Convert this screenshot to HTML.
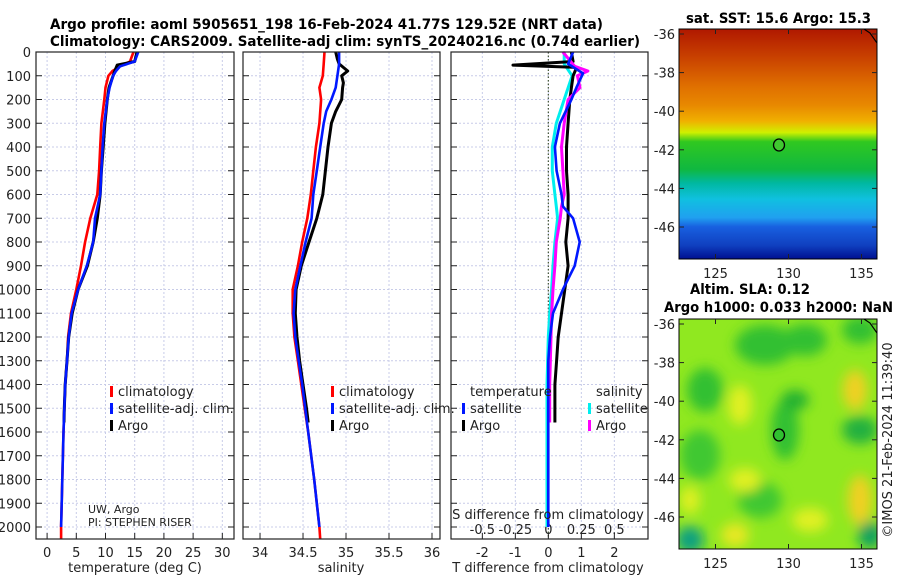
<!DOCTYPE html>
<html><head><meta charset="utf-8">
<style>
html,body{margin:0;padding:0;background:#fff;}
svg text{font-family:"DejaVu Sans","Liberation Sans",sans-serif;fill:#222;}
.t{font-weight:bold;font-size:14px;fill:#000;}
.tk{font-size:13px;}
.lg{font-size:13px;}
</style></head>
<body>
<svg id="fig" width="900" height="580" viewBox="0 0 900 580" xmlns="http://www.w3.org/2000/svg">
<defs>
<linearGradient id="sstg" x1="0" y1="0" x2="0" y2="1">
<stop offset="0" stop-color="#b01800"/>
<stop offset="0.12" stop-color="#c84000"/>
<stop offset="0.25" stop-color="#e07000"/>
<stop offset="0.33" stop-color="#e88800"/>
<stop offset="0.4" stop-color="#f0b000"/>
<stop offset="0.45" stop-color="#d0f000"/>
<stop offset="0.49" stop-color="#30c820"/>
<stop offset="0.61" stop-color="#10b840"/>
<stop offset="0.67" stop-color="#00b8a0"/>
<stop offset="0.74" stop-color="#10c0e0"/>
<stop offset="0.82" stop-color="#20a0f0"/>
<stop offset="0.86" stop-color="#1860e0"/>
<stop offset="0.94" stop-color="#1040c0"/>
<stop offset="1" stop-color="#001090"/>
</linearGradient>
<filter id="blur"><feGaussianBlur stdDeviation="6"/></filter>
<clipPath id="m2c"><rect x="679" y="319" width="198" height="230"/></clipPath>
</defs>
<text class="t" x="50" y="29" textLength="553" lengthAdjust="spacingAndGlyphs">Argo profile: aoml 5905651_198 16-Feb-2024 41.77S 129.52E (NRT data)</text>
<text class="t" x="50" y="46" textLength="590" lengthAdjust="spacingAndGlyphs">Climatology: CARS2009. Satellite-adj clim: synTS_20240216.nc (0.74d earlier)</text>
<g id="plots"></g>
<!-- maps -->
<text class="t" x="686" y="23" textLength="185" lengthAdjust="spacingAndGlyphs">sat. SST: 15.6 Argo: 15.3</text>
<rect x="679" y="29" width="198" height="230" fill="url(#sstg)"/>
<path d="M864,29 L870,33 L877,43" stroke="#000" fill="none" stroke-width="1.2"/>
<ellipse cx="779" cy="145" rx="5.5" ry="6" fill="#40c830" stroke="#000" stroke-width="1.3"/>
<rect x="679" y="29" width="198" height="230" fill="none" stroke="#000" stroke-width="1"/>
<text class="t" x="690" y="294" textLength="120" lengthAdjust="spacingAndGlyphs">Altim. SLA: 0.12</text>
<text class="t" x="664" y="312" textLength="229" lengthAdjust="spacingAndGlyphs">Argo h1000: 0.033 h2000: NaN</text>
<rect x="679" y="319" width="198" height="230" fill="#90e820"/>
<g clip-path="url(#m2c)" filter="url(#blur)">
<ellipse cx="705" cy="390" rx="18" ry="22" fill="#30c030"/>
<ellipse cx="765" cy="345" rx="30" ry="20" fill="#30c030"/>
<ellipse cx="805" cy="340" rx="22" ry="16" fill="#30c030"/>
<ellipse cx="860" cy="330" rx="18" ry="14" fill="#30c030"/>
<ellipse cx="785" cy="430" rx="14" ry="30" fill="#30c030"/>
<ellipse cx="795" cy="400" rx="14" ry="10" fill="#20b030"/>
<ellipse cx="700" cy="455" rx="20" ry="25" fill="#40c830"/>
<ellipse cx="860" cy="430" rx="18" ry="14" fill="#20b040"/>
<ellipse cx="690" cy="540" rx="14" ry="14" fill="#10a080"/>
<ellipse cx="870" cy="535" rx="12" ry="14" fill="#10a060"/>
<ellipse cx="760" cy="500" rx="22" ry="18" fill="#40c830"/>
<ellipse cx="855" cy="390" rx="12" ry="20" fill="#f0d020"/>
<ellipse cx="860" cy="500" rx="12" ry="25" fill="#f0d020"/>
<ellipse cx="740" cy="405" rx="12" ry="20" fill="#e0f020"/>
<ellipse cx="745" cy="480" rx="16" ry="12" fill="#e0f020"/>
<ellipse cx="810" cy="520" rx="18" ry="12" fill="#e0f020"/>
<ellipse cx="690" cy="500" rx="10" ry="14" fill="#e0f020"/>
<ellipse cx="735" cy="535" rx="14" ry="12" fill="#e8e820"/>
</g>
<path d="M864,319 L870,323 L877,333" stroke="#000" fill="none" stroke-width="1.2"/>
<ellipse cx="779" cy="435" rx="5.5" ry="6" fill="#30c030" stroke="#000" stroke-width="1.3"/>
<rect x="679" y="319" width="198" height="230" fill="none" stroke="#000" stroke-width="1"/>
<g id="mapaxes"></g>
<text class="tk" transform="translate(892,440) rotate(-90)" text-anchor="middle">©IMOS 21-Feb-2024 11:39:40</text>
</svg>
<script>
// depth arrays and series values
const depT_argo = [0,40,55,80,100,150,200,300,400,500,600,700,800,900,1000,1100,1200,1300,1400,1500,1560];
const T_argo    = [15.4,15,12,11.6,11.3,10.6,10.3,9.9,9.6,9.3,9.1,8.6,7.9,6.9,5.3,4.3,3.7,3.4,3.1,2.95,2.9];
const depT_clim = [0,40,60,80,100,150,200,300,400,500,600,700,800,900,1000,1100,1200,1300,1400,1600,1800,2000,2050];
const T_clim    = [14.8,14.2,12.5,11.2,10.5,10,9.8,9.3,9.1,8.9,8.6,7.4,6.5,5.8,5.0,4.1,3.6,3.4,3.1,2.8,2.6,2.4,2.4];
const depT_sat  = [0,40,60,80,100,150,200,300,400,500,600,700,800,900,1000,1100,1200,1300,1400,1600,1800,2000];
const T_sat     = [15.6,15,12.5,11.8,11.3,10.7,10.3,9.8,9.5,9.3,9.1,8.2,7.9,6.8,5.3,4.2,3.7,3.4,3.1,2.8,2.6,2.4];

const depS_argo = [0,30,50,80,100,130,150,200,250,300,400,500,600,700,800,900,1000,1100,1200,1300,1400,1500,1560];
const S_argo    = [34.88,34.9,34.92,35.02,34.95,34.97,34.96,34.95,34.88,34.83,34.79,34.76,34.73,34.66,34.57,34.48,34.42,34.41,34.43,34.46,34.5,34.54,34.56];
const depS_clim = [0,50,100,150,200,300,400,500,600,700,800,900,1000,1100,1200,1300,1400,1500,1600,1800,2000,2050];
const S_clim    = [34.75,34.74,34.73,34.69,34.71,34.69,34.65,34.62,34.59,34.55,34.49,34.44,34.38,34.38,34.4,34.44,34.48,34.52,34.56,34.63,34.69,34.7];
const depS_sat  = [0,50,100,150,200,250,300,400,500,600,700,800,900,1000,1100,1200,1300,1400,1600,1800,2000];
const S_sat     = [34.92,34.92,34.9,34.88,34.83,34.77,34.74,34.7,34.66,34.62,34.6,34.53,34.47,34.41,34.39,34.41,34.45,34.49,34.56,34.63,34.69];

const depD_Targo = [0,40,55,65,100,150,200,300,400,500,600,700,800,900,1000,1100,1200,1300,1400,1560];
const dT_argo    = [0.7,0.75,-1.07,0.86,0.75,0.7,0.65,0.6,0.55,0.55,0.6,0.6,0.53,0.6,0.5,0.4,0.3,0.25,0.2,0.2];
const depD_Tsat  = [0,50,90,150,200,300,400,500,600,650,700,800,900,1000,1100,1200,1300,1400,1700,2000];
const dT_sat     = [0.75,0.6,1.05,0.85,0.7,0.35,0.2,0.25,0.4,0.44,0.75,0.95,0.8,0.44,0.14,0.05,0.0,0.0,0.0,0.0];
const depD_Ssat  = [0,50,100,200,300,400,500,600,650,700,800,900,1000,1100,1200,1400,1700,2000];
const dS_sat     = [0.12,0.12,0.18,0.12,0.06,0.03,0.03,0.05,0.06,0.07,0.05,0.035,0.025,0.01,0.0,-0.01,-0.01,-0.01];
const depD_Sargo = [0,60,80,100,150,200,300,400,500,600,650,700,800,900,1000,1100,1200,1400,1560];
const dS_argo    = [0.11,0.2,0.3,0.22,0.24,0.15,0.12,0.1,0.11,0.12,0.1,0.09,0.06,0.05,0.035,0.025,0.02,0.01,0.01];

const depthTicks = [0,100,200,300,400,500,600,700,800,900,1000,1100,1200,1300,1400,1500,1600,1700,1800,1900,2000];
const tTicks = [0,5,10,15,20,25,30];
const sTicks = [34,34.5,35,35.5,36];
const sTickLabels = ["34","34.5","35","35.5","36"];
const dTTicks = [-2,-1,0,1,2];
const dSTicks = [-0.5,-0.25,0,0.25,0.5];
const dSTickLabels = ["-0.5","-0.25","0","0.25","0.5"];
const lonTicks = [125,130,135];
const latTicks = [-36,-38,-40,-42,-44,-46];

const NS="http://www.w3.org/2000/svg";
const g=document.getElementById('plots');
function mk(tag,attrs,parent){const e=document.createElementNS(NS,tag);for(const k in attrs)e.setAttribute(k,attrs[k]);(parent||g).appendChild(e);return e;}
const Y0=52, Y1=539, yScale=d=>Y0+d*0.2375;

const panels=[
 {name:'temperature',x0:36,x1:234,xmin:-1.9,xmax:32.0},
 {name:'salinity',x0:243,x1:440,xmin:33.802,xmax:36.093},
 {name:'difference',x0:451,x1:648,xmin:-2.95,xmax:3.02}
];
panels.forEach(p=>{p.sx=v=>p.x0+(v-p.xmin)/(p.xmax-p.xmin)*(p.x1-p.x0);});
const P1=panels[0],P2=panels[1],P3=panels[2];
const sxS=v=>P3.sx(v*4);

function gridV(p,vals,sx){vals.forEach(v=>{const x=sx(v);const l=mk('line',{x1:x,x2:x,y1:Y0,y2:Y1,stroke:'#c8cce8','stroke-width':1,'stroke-dasharray':'2,2'});

});}
panels.forEach((p,i)=>{
  depthTicks.forEach(d=>{const y=yScale(d);const l=mk('line',{x1:p.x0,x2:p.x1,y1:y,y2:y,stroke:'#c8cce8','stroke-width':1,'stroke-dasharray':'2,2'});
  
  
  mk('line',{x1:p.x0,x2:p.x0+6,y1:y,y2:y,stroke:'#222'});mk('line',{x1:p.x1-6,x2:p.x1,y1:y,y2:y,stroke:'#222'});});
});
gridV(P1,tTicks,P1.sx);gridV(P2,sTicks,P2.sx);gridV(P3,dTTicks,P3.sx);
{const x=P3.sx(0);const l=mk('line',{x1:x,x2:x,y1:Y0,y2:Y1,stroke:'#445533','stroke-width':1.2,'stroke-dasharray':'1.5,2'});

}

depthTicks.forEach(d=>{const t=mk('text',{x:31,y:yScale(d)+5,'text-anchor':'end',class:'tk'});t.textContent=d;

});
function xTicks(vals,labels,sx,y){vals.forEach((v,i)=>{const x=sx(v);mk('line',{x1:x,x2:x,y1:Y1,y2:Y1-6,stroke:'#222'});
const t=mk('text',{x:x,y:y,'text-anchor':'middle',class:'tk'});t.textContent=labels[i];

});}
xTicks(tTicks,tTicks.map(String),P1.sx,557);
xTicks(sTicks,sTickLabels,P2.sx,557);
xTicks(dTTicks,dTTicks.map(String),P3.sx,557);
dSTicks.forEach((v,i)=>{const t=mk('text',{x:sxS(v),y:534,'text-anchor':'middle',class:'tk'});t.textContent=dSTickLabels[i];

});

function line(xs,ds,sx,color,name,w){const pts=xs.map((v,i)=>sx(v).toFixed(1)+','+yScale(ds[i]).toFixed(1)).join(' ');
const l=mk('polyline',{points:pts,fill:'none',stroke:color,'stroke-width':w||2.6,'stroke-linejoin':'round'});

}
line(T_clim,depT_clim,P1.sx,'#ff0000','temp-climatology-line');
line(T_argo,depT_argo,P1.sx,'#000','temp-argo-line',3);
line(T_sat,depT_sat,P1.sx,'#0018ff','temp-satellite-line');
line(S_clim,depS_clim,P2.sx,'#ff0000','sal-climatology-line');
line(S_argo,depS_argo,P2.sx,'#000','sal-argo-line',3);
line(S_sat,depS_sat,P2.sx,'#0018ff','sal-satellite-line');
line(dS_sat,depD_Ssat,sxS,'#00eeee','sdiff-satellite-line',3);
line(dT_argo,depD_Targo,P3.sx,'#000','tdiff-argo-line',3);
line(dS_argo,depD_Sargo,sxS,'#ff00ff','sdiff-argo-line',3);
line(dT_sat,depD_Tsat,P3.sx,'#0018ff','tdiff-satellite-line');

panels.forEach(p=>{mk('rect',{x:p.x0,y:Y0,width:p.x1-p.x0,height:Y1-Y0,fill:'none',stroke:'#222','stroke-width':1.2});});

function lg(x,y,color,label,name){mk('rect',{x:x,y:y-10,width:3,height:11,fill:color});const t=mk('text',{x:x+8,y:y,class:'lg'});t.textContent=label;

}
lg(110,396,'#ff0000','climatology','legend-climatology');
lg(110,413,'#0018ff','satellite-adj. clim.','legend-satellite');
lg(110,430,'#000','Argo','legend-argo');
lg(331,396,'#ff0000','climatology','legend-climatology-2');
lg(331,413,'#0018ff','satellite-adj. clim.','legend-satellite-2');
lg(331,430,'#000','Argo','legend-argo-2');
{const t=mk('text',{x:470,y:396,class:'lg'});t.textContent='temperature';}
lg(462,413,'#0018ff','satellite','legend-t-satellite');
lg(462,430,'#000','Argo','legend-t-argo');
{const t=mk('text',{x:596,y:396,class:'lg'});t.textContent='salinity';}
lg(588,413,'#00eeee','satellite','legend-s-satellite');
lg(588,430,'#ff00ff','Argo','legend-s-argo');

{let t=mk('text',{x:88,y:513,style:'font-size:11px'});t.textContent='UW, Argo';
t=mk('text',{x:88,y:526,style:'font-size:11px'});t.textContent='PI: STEPHEN RISER';}
{let t=mk('text',{x:548,y:519,'text-anchor':'middle',class:'tk'});t.textContent='S difference from climatology';

}
[[135,'temperature (deg C)','x-axis-title-temp'],[341,'salinity','x-axis-title-sal'],[548,'T difference from climatology','x-axis-title-tdiff']].forEach(a=>{
const t=mk('text',{x:a[0],y:572,'text-anchor':'middle',class:'tk'});t.textContent=a[1];

});

const mg=document.getElementById('mapaxes');
const lonX=v=>679+(v-122.5)*14.6;
[[29,0],[319,290]].forEach(([top,off])=>{
  latTicks.forEach(v=>{const y=top+5+(-36-v)*19.3;
    mk('line',{x1:679,x2:684,y1:y,y2:y,stroke:'#222'},mg);mk('line',{x1:872,x2:877,y1:y,y2:y,stroke:'#222'},mg);
    const t=mk('text',{x:675,y:y+5,'text-anchor':'end',class:'tk'},mg);t.textContent=v;
    
    });
  lonTicks.forEach(v=>{const x=lonX(v);mk('line',{x1:x,x2:x,y1:top+230,y2:top+225,stroke:'#222'},mg);mk('line',{x1:x,x2:x,y1:top,y2:top+5,stroke:'#222'},mg);
    const t=mk('text',{x:x,y:top+249,'text-anchor':'middle',class:'tk'},mg);t.textContent=v;
    
    });
});
</script>
</body></html>
